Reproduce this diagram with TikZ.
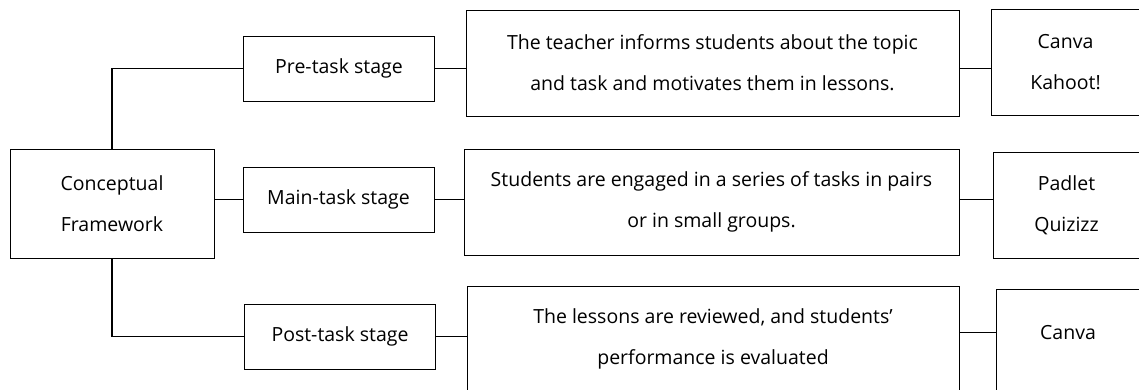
\documentclass[tikz,border=0pt]{standalone}
\usepackage{fontspec}
\setmainfont{Open Sans}
\usepackage{tikz}
\usetikzlibrary{calc,positioning}

\begin{document}
\begin{tikzpicture}[x=1pt, y=-1pt, thick,
	cell/.style={draw, line width=0.8pt, align=center, inner sep=0pt, font=\fontsize{19.5}{41}\selectfont},
	stage/.style={cell, minimum width=191pt, minimum height=65pt},
	task/.style={cell, minimum height=106pt},
	tool/.style={cell, minimum height=106pt},
	link/.style={line width=1.3pt},
	thin link/.style={line width=0.8pt}]
	\useasboundingbox (0,0) rectangle (1139,390);

	\node (frame) at (112, 203.5) [cell, minimum width=204pt, minimum height=109pt] {Conceptual\\Framework};

	\node (pre) at (339, 68.5) [stage] {Pre-task stage};
	\node (main) at (338.5, 199.5) [stage] {Main-task stage};
	\node (post) at (340, 336.5) [stage] {Post-task stage};

	\node (taskA) at (712.5, 63) [task, minimum width=493pt] {The teacher informs students about the topic\\and task and motivates them in lessons.};
	\node (taskB) at (711.5, 202) [task, minimum width=495pt] {Students are engaged in a series of tasks in pairs\\or in small groups.};
	\node (taskC) at (713, 339) [task, minimum width=492pt] {The lessons are reviewed, and students'\\performance is evaluated};

	\node (toolA) at (1065.5, 62) [tool, minimum width=149pt] {Canva\\Kahoot!};
	\node (toolB) at (1066.5, 205) [tool, minimum width=147pt] {Padlet\\Quizizz};
	\node (toolC) at (1068, 342) [tool, minimum width=144pt, text depth=20pt] {Canva};

	% left branches
	\draw [link] (frame.north) |- (pre.west);
	\draw [link] (main.west -| frame.east) -- (main.west);
	\draw [link] (frame.south) |- (post.west);

	\draw [thin link] (pre.east) -- (pre.east -| taskA.west);
	\draw [link] (main.east) -- (main.east -| taskB.west);
	\draw [link] (post.east) -- (post.east -| taskC.west);

	% right branches
	\draw [thin link] (taskA.east |- pre.east) -- (toolA.west |- pre.east);
	\draw [thin link] (taskB.east |- main.east) -- (toolB.west |- main.east);
	\draw [thin link] ([yshift=7pt]taskC.east) -- ([yshift=7pt]taskC.east -| toolC.west);
\end{tikzpicture}
\end{document}
